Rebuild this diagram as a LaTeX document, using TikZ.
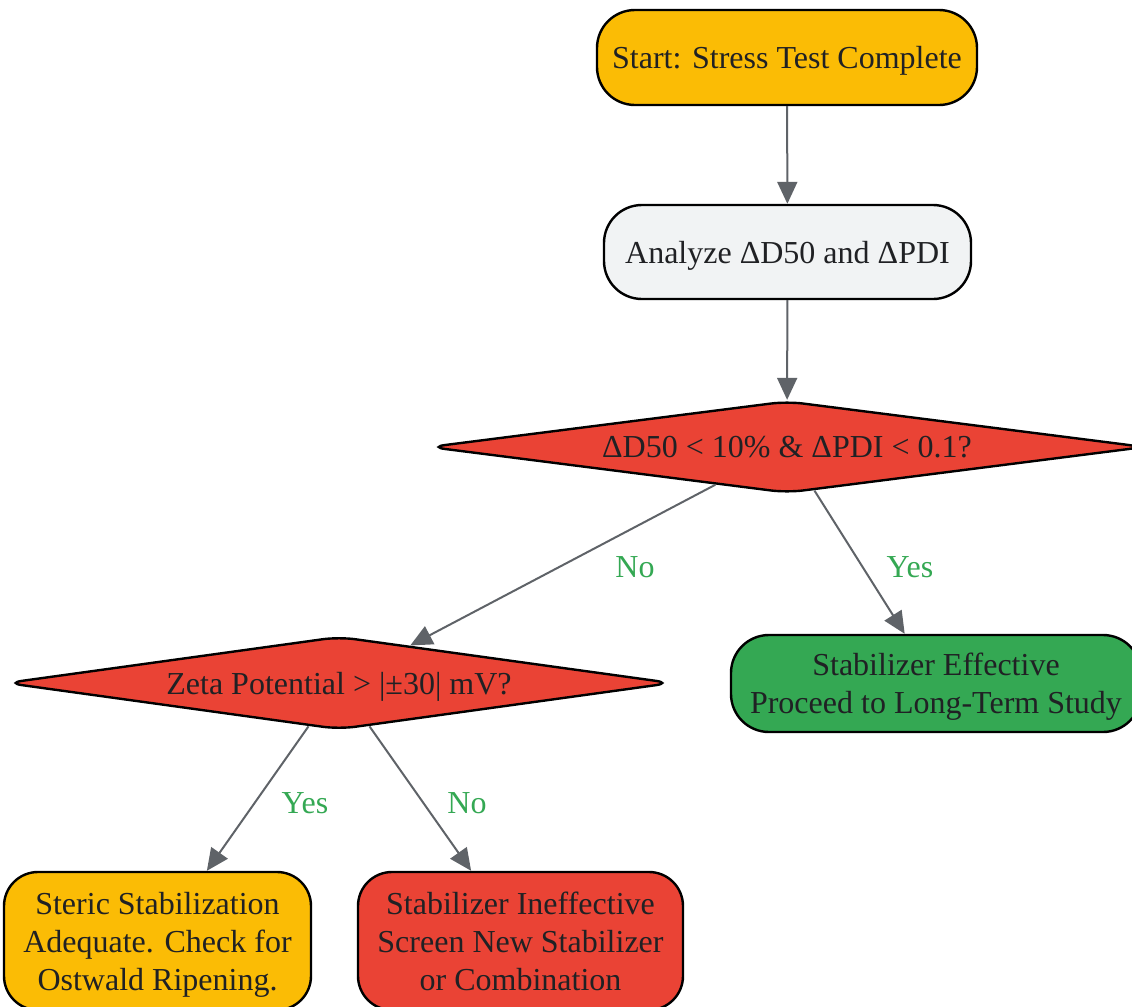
\documentclass[tikz,border=0pt]{standalone}
\usepackage{fontspec}
\setmainfont{Liberation Serif}
\usetikzlibrary{shapes.geometric,arrows.meta}
\definecolor{gyellow}{HTML}{FBBC05}
\definecolor{gred}{HTML}{EA4335}
\definecolor{ggreen}{HTML}{34A853}
\definecolor{ggray}{HTML}{F1F3F4}
\definecolor{arrowgray}{HTML}{5F6368}
\definecolor{txt}{HTML}{202124}

\begin{document}
\begin{tikzpicture}[x=0.5pt, y=-0.5pt,
  box/.style={draw=black, line width=1.2pt, rounded corners=19pt, align=center, text=txt, inner sep=0pt, text depth=0pt, font=\fontsize{16}{19}\selectfont},
  test/.style={diamond, draw=black, line width=1.2pt, rounded corners=8pt, fill=gred, text=txt, inner sep=0pt, text depth=0pt, font=\fontsize{16}{19}\selectfont},
  flow/.style={draw=arrowgray, line width=1pt, -{Triangle[length=11pt,width=10pt]}},
  lbl/.style={text=ggreen, font=\fontsize{16}{19}\selectfont}]
\useasboundingbox (0,0) rectangle (1132,1007);
% nodes
\node [box, fill=gyellow, minimum width=190pt, minimum height=47.5pt] (start) at (787,57.5) {Start: Stress Test Complete};
\node [box, fill=ggray, minimum width=183.5pt, minimum height=47pt] (analyze) at (787.5,252) {Analyze ΔD50 and ΔPDI};
\node [test, aspect=7.8, minimum width=358pt, minimum height=46pt] (size) at (787,447) {ΔD50 < 10\% \& ΔPDI < 0.1?};
\node [test, aspect=7.1, minimum width=333pt, minimum height=46.5pt] (zeta) at (339,683) {Zeta Potential > |±30| mV?};
\node [box, fill=ggreen, minimum width=205pt, minimum height=48.5pt] (effective) at (936,683.5) {Stabilizer Effective\\Proceed to Long-Term Study};
\node [box, fill=gyellow, minimum width=153.5pt, minimum height=69pt, rounded corners=17pt] (steric) at (157.5,941) {Steric Stabilization\\Adequate. Check for\\Ostwald Ripening.};
\node [box, fill=gred, minimum width=162.5pt, minimum height=69pt, rounded corners=17pt] (ineffective) at (520.5,941) {Stabilizer Ineffective\\Screen New Stabilizer\\or Combination};
% connectors
\draw [flow] (start) -- (analyze);
\draw [flow] (analyze) -- (size);
\draw [flow] (size) -- (zeta);
\draw [flow] (size) -- (effective);
\draw [flow] (zeta) -- (steric);
\draw [flow] (zeta) -- (ineffective);
% labels
\node [lbl] (no1) at (635,567) {No};
\node [lbl] (yes1) at (910,567) {Yes};
\node [lbl] (yes2) at (305,803) {Yes};
\node [lbl] (no2) at (467,803) {No};
\end{tikzpicture}
\end{document}
